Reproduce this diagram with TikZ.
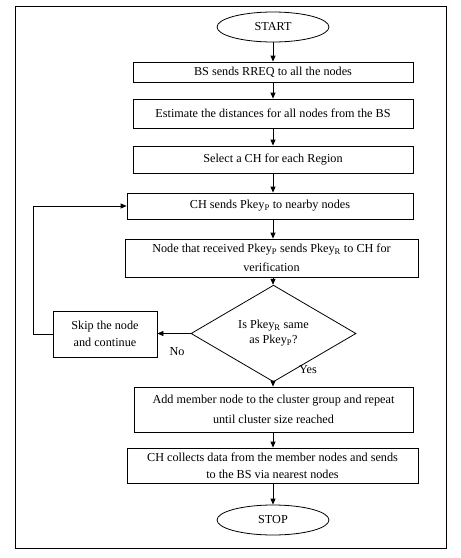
\documentclass[tikz,border=0pt]{standalone}
\usepackage{fontspec}
\setmainfont{Liberation Serif}
\usetikzlibrary{shapes.geometric,arrows.meta}
\begin{document}
\begin{tikzpicture}[x=1pt,y=-1pt,
  every node/.style={font=\fontsize{12.2}{18}\selectfont},
  box/.style={draw,line width=0.8pt,rectangle,inner sep=0pt,align=center},
  term/.style={draw,line width=0.8pt,ellipse,inner sep=0pt,minimum width=112pt,minimum height=30pt},
  dec/.style={draw,line width=0.8pt,diamond,inner sep=0pt,minimum width=165pt,minimum height=75pt,align=center,font=\fontsize{12.2}{15}\selectfont},
  arr/.style={line width=0.8pt,-{Triangle[length=6pt,width=5pt]}},
  lbl/.style={inner sep=0pt}]
\useasboundingbox (0,0) rectangle (461,558);
\node[draw,line width=0.8pt,rectangle,minimum width=431pt,minimum height=542pt,inner sep=0pt] (frame) at (230.5,277) {};
\coordinate (X) at (273,0);
\node[term] (start) at (273,27) {START};
\node[box,minimum width=280pt,minimum height=20pt] (b1) at (273,72) {BS sends RREQ to all the nodes};
\node[box,minimum width=280pt,minimum height=29pt] (b2) at (273,113.5) {Estimate the distances for all nodes from the BS};
\node[box,minimum width=280pt,minimum height=27pt] (b3) at (273,159.5) {Select a CH for each Region};
\node[box,minimum width=286pt,minimum height=26pt] (b4) at (270,206) {CH sends Pkey\textsubscript{P} to nearby nodes};
\node[box,minimum width=293pt,minimum height=38pt,font=\fontsize{12.2}{19}\selectfont] (b5) at (271.5,258) {Node that received Pkey\textsubscript{P} sends Pkey\textsubscript{R} to CH for\\verification};
\node[dec] (d) at (273.5,333.5) {Is Pkey\textsubscript{R} same\\as Pkey\textsubscript{P}?};
\node[box,minimum width=104pt,minimum height=46pt,font=\fontsize{12.2}{17}\selectfont] (skip) at (105,334) {Skip the node\\and continue};
\node[box,minimum width=279pt,minimum height=45pt,font=\fontsize{12.2}{20}\selectfont] (b6) at (273.5,409.5) {Add member node to the cluster group and repeat\\until cluster size reached};
\node[box,minimum width=291pt,minimum height=35pt,font=\fontsize{12.2}{17}\selectfont] (b7) at (272.5,465.5) {CH collects data from the member nodes and sends\\to the BS via nearest nodes};
\node[term] (stop) at (273,520) {STOP};
\node[lbl] (no) at (177,352) {No};
\node[lbl] (yes) at (308,370) {Yes};
\coordinate (lp1) at (33,334);
\coordinate (lp2) at (33,206);
\draw[arr] (start.south) -- (b1.north -| start.south);
\draw[arr] (b1.south -| X) -- (b2.north -| X);
\draw[arr] (b2.south -| X) -- (b3.north -| X);
\draw[arr] (b3.south -| X) -- (b4.north -| X);
\draw[arr] (b4.south -| X) -- (b5.north -| X);
\draw[arr] (b5.south -| X) -- (d.north -| X);
\draw[arr] (d.south -| X) -- (b6.north -| X);
\draw[arr] (b6.south -| X) -- (b7.north -| X);
\draw[arr] (b7.south -| X) -- (stop.north -| X);
\draw[arr] (d.west) -- (skip.east |- d.west);
\draw[arr] (skip.west) -- (lp1) -- (lp2) -- (b4.west);
\end{tikzpicture}
\end{document}
